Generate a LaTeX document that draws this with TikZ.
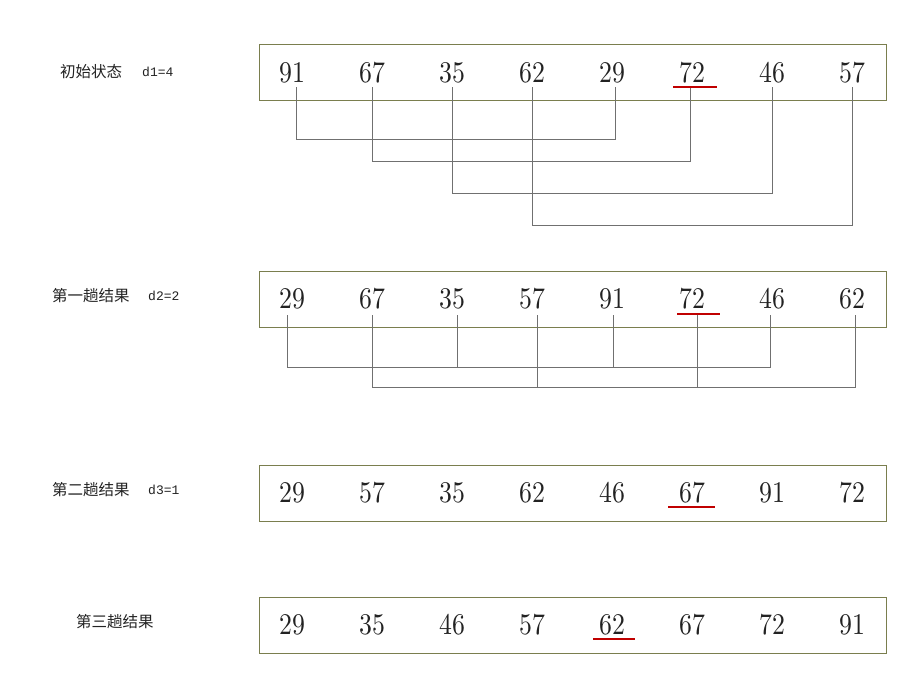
\documentclass[tikz,border=0pt]{standalone}
\usepackage{fontspec}
\newfontfamily\cjk{Noto Sans CJK SC}
\newfontfamily\lmono{Liberation Mono}
\newfontfamily\numf{lmroman10-regular}[Extension=.otf]
\definecolor{boxc}{RGB}{122,126,78}
\definecolor{linec}{RGB}{112,112,112}
\definecolor{redc}{RGB}{192,0,0}
\definecolor{txtc}{RGB}{34,34,34}
\newcommand\nm[1]{\scalebox{0.86}[1]{#1}}
\begin{document}
\begin{tikzpicture}[x=1pt,y=-1pt,
  boxn/.style={draw=boxc,line width=1pt,minimum width=627pt,minimum height=56pt,inner sep=0pt},
  num/.style={anchor=base,inner sep=0pt,text=txtc,font=\numf\fontsize{30}{30}\selectfont},
  lab/.style={anchor=west,inner sep=0pt,text=txtc,font=\cjk\fontsize{15.5}{16}\selectfont},
  dlab/.style={anchor=west,inner sep=0pt,text=txtc,font=\lmono\fontsize{13}{14}\selectfont},
  conn/.style={draw=linec,line width=1pt},
  redline/.style={draw=redc,line width=1.3pt}]
\useasboundingbox (0,0) rectangle (924,691);
\fill[white] (0,0) rectangle (924,691);

% boxes
\node[boxn] (b1) at (572.5,72) {};
\node[boxn] (b2) at (572.5,299) {};
\node[boxn] (b3) at (572.5,493) {};
\node[boxn] (b4) at (572.5,625) {};

% labels
\node[lab] (l1) at (60,72) {初始状态};
\node[dlab] (d1) at (142,72) {d1=4};
\node[lab] (l2) at (52,296) {第一趟结果};
\node[dlab] (d2) at (148,296) {d2=2};
\node[lab] (l3) at (52,490) {第二趟结果};
\node[dlab] (d3) at (148,490) {d3=1};
\node[lab] (l4) at (76,622) {第三趟结果};

% numbers
\foreach \v [count=\i] in {91,67,35,62,29,72,46,57}
  \node[num] (r1n\i) at ({292+80*(\i-1)},82) {\nm{\v}};
\foreach \v [count=\i] in {29,67,35,57,91,72,46,62}
  \node[num] (r2n\i) at ({292+80*(\i-1)},308) {\nm{\v}};
\foreach \v [count=\i] in {29,57,35,62,46,67,91,72}
  \node[num] (r3n\i) at ({292+80*(\i-1)},502) {\nm{\v}};
\foreach \v [count=\i] in {29,35,46,57,62,67,72,91}
  \node[num] (r4n\i) at ({292+80*(\i-1)},634) {\nm{\v}};

% row 1 connector end points
\coordinate (a1) at (296,87);  \coordinate (a5) at (615,87);
\coordinate (a2) at (372,87);  \coordinate (a6) at (690,87);
\coordinate (a3) at (452,87);  \coordinate (a7) at (772,87);
\coordinate (a4) at (532,87);  \coordinate (a8) at (852,87);
\draw[conn] (a1) -- ++(0,52) -| (a5);
\draw[conn] (a2) -- ++(0,74) -| (a6);
\draw[conn] (a3) -- ++(0,106) -| (a7);
\draw[conn] (a4) -- ++(0,138) -| (a8);

% row 2 connector end points
\coordinate (c1) at (287,315); \coordinate (c3) at (457,315);
\coordinate (c5) at (613,315); \coordinate (c7) at (770,315);
\coordinate (c2) at (372,315); \coordinate (c4) at (537,315);
\coordinate (c6) at (697,315); \coordinate (c8) at (855,315);
\draw[conn] (c1) -- ++(0,52) -| (c7);
\draw[conn] (c3) -- ++(0,52);
\draw[conn] (c5) -- ++(0,52);
\draw[conn] (c2) -- ++(0,72) -| (c8);
\draw[conn] (c4) -- ++(0,72);
\draw[conn] (c6) -- ++(0,72);

% red underlines
\coordinate (u1a) at (673,87);  \coordinate (u1b) at (717,87);
\coordinate (u2a) at (677,314); \coordinate (u2b) at (720,314);
\coordinate (u3a) at (668,507); \coordinate (u3b) at (715,507);
\coordinate (u4a) at (593,639); \coordinate (u4b) at (635,639);
\draw[redline] (u1a) -- (u1b);
\draw[redline] (u2a) -- (u2b);
\draw[redline] (u3a) -- (u3b);
\draw[redline] (u4a) -- (u4b);
\end{tikzpicture}
\end{document}
